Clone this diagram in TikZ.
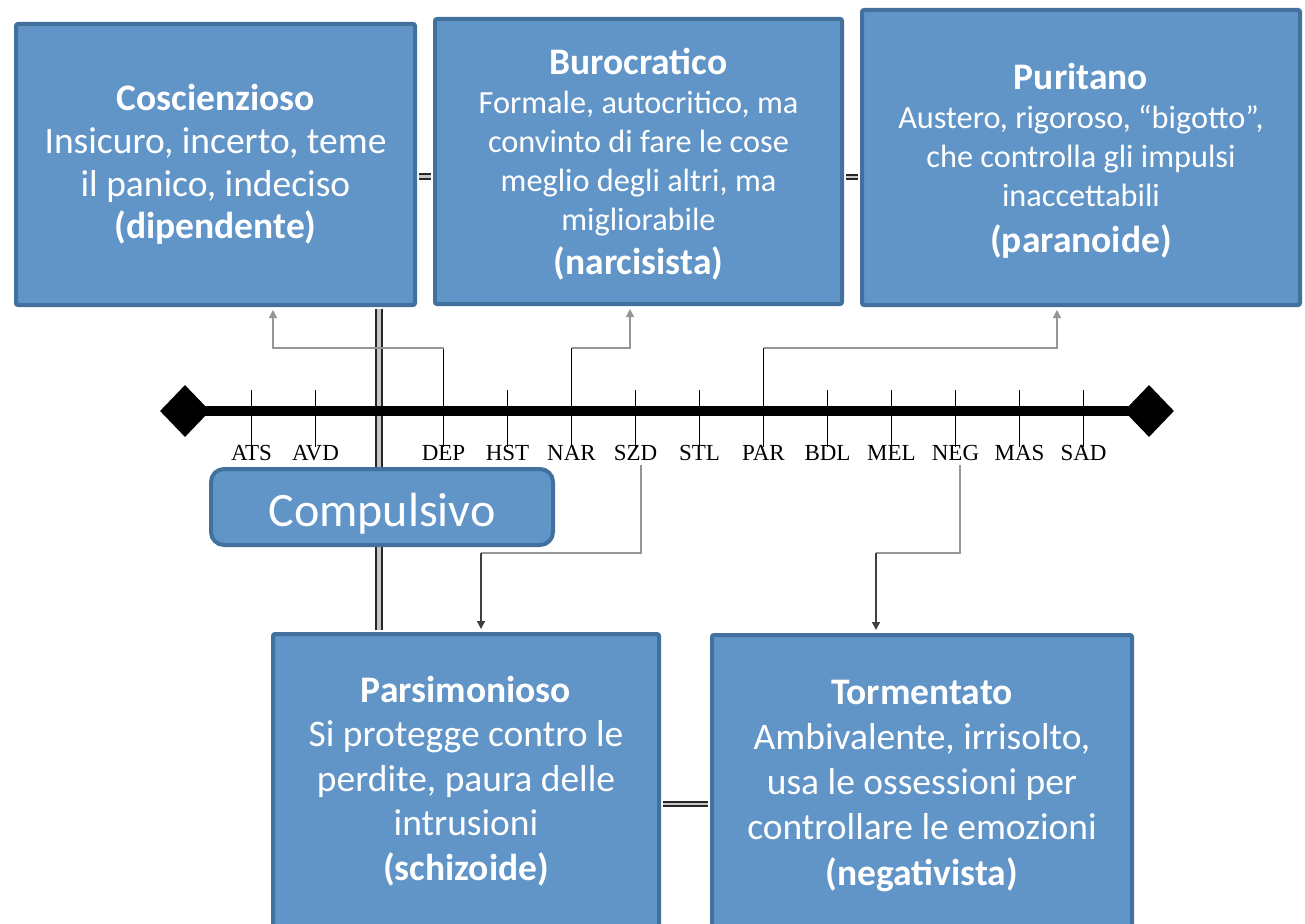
\documentclass[tikz,border=0pt]{standalone}
\usepackage{fontspec}
\setmainfont{Carlito}
\newfontfamily\labfont{Liberation Serif}
\usetikzlibrary{arrows.meta,calc,shapes.geometric}
\definecolor{boxfill}{RGB}{97,149,200}
\definecolor{boxline}{RGB}{67,113,158}
\definecolor{conngray}{RGB}{150,150,150}
\tikzset{
  box/.style={draw=boxline, line width=4pt, fill=boxfill, rounded corners=2pt,
    text=white, align=center, inner sep=0pt},
  dbl/.style={draw=black!85, double=gray!45, double distance=2.5pt, line width=1.8pt},
  vdbl/.style={draw=black!85, double=gray!45, double distance=3.5pt, line width=2.2pt},
  tickl/.style={draw=black, line width=1.5pt},
  axlab/.style={font=\labfont\fontsize{23}{23}\selectfont, text=black, inner sep=0pt},
  conn/.style={draw=conngray, line width=1.4pt},
  darkconn/.style={draw=black!75, line width=1.4pt},
  tip/.style={-{Triangle[width=8pt,length=8pt]}},
  diam/.style={diamond, fill=black, inner sep=0pt, minimum width=50pt, minimum height=52pt},
}
\newcommand{\bigb}[1]{{\fontsize{37.5}{39}\selectfont\bfseries #1}}
\begin{document}
\begin{tikzpicture}[x=1pt,y=-1pt]
\useasboundingbox (0,0) rectangle (1305,923);
\clip (0,0) rectangle (1305,923);
\fill[white] (0,0) rectangle (1305,923);

% boxes
\node[box, minimum width=399pt, minimum height=281pt, font=\fontsize{37.5}{42.7}\selectfont] (cos) at (215.5,164.5)
  {\textbf{Coscienzioso}\\Insicuro, incerto, teme\\il panico, indeciso\\\textbf{(dipendente)}};
\node[box, minimum width=407pt, minimum height=285pt, font=\fontsize{32.3}{39}\selectfont, text depth=0pt] (buro) at (638.5,161.5)
  {\bigb{Burocratico}\\Formale, autocritico, ma\\convinto di fare le cose\\meglio degli altri, ma\\migliorabile\\[5pt]\bigb{(narcisista)}};
\node[box, minimum width=438pt, minimum height=295pt, font=\fontsize{32.3}{39}\selectfont, text depth=0pt] (puri) at (1081,157.5)
  {\bigb{Puritano}\\Austero, rigoroso, “bigotto”,\\che controlla gli impulsi\\inaccettabili\\[7pt]\bigb{(paranoide)}};
\node[box, minimum width=386pt, minimum height=294pt, font=\fontsize{37.5}{44.5}\selectfont] (pars) at (466,781)
  {\textbf{Parsimonioso}\\Si protegge contro le\\perdite, paura delle\\intrusioni\\\textbf{(schizoide)}};
\node[box, minimum width=420pt, minimum height=295pt, font=\fontsize{37.5}{45.3}\selectfont, text depth=0pt] (tor) at (922,782.5)
  {\textbf{Tormentato}\\Ambivalente, irrisolto,\\usa le ossessioni per\\controllare le emozioni\\\textbf{(negativista)}};

% double connectors between boxes
\draw[dbl] ($(cos.east |- 0,176.5)+(2,0)$) -- ($(buro.west |- 0,176.5)+(-2,0)$);
\draw[dbl] ($(buro.east |- 0,177)+(2,0)$) -- ($(puri.west |- 0,177)+(-2,0)$);
\draw[dbl] ($(pars.east |- 0,804)+(2,0)$) -- ($(tor.west |- 0,804)+(-2,0)$);
\draw[vdbl] ($(379,0 |- cos.south)+(0,2)$) -- ($(379,0 |- pars.north)+(0,-2)$);

% axis
\node[diam] (dL) at (185,411) {};
\node[diam] (dR) at (1149,411) {};
\draw[line width=10.5pt] (dL.center) -- (dR.center);

% ticks and labels
\foreach \i/\t in {0/ATS,1/AVD,3/DEP,4/HST,5/NAR,6/SZD,7/STL,8/PAR,9/BDL,10/MEL,11/NEG,12/MAS,13/SAD}{
  \coordinate (k\i) at ({251.5+64*\i},390);
  \coordinate (kb\i) at ({251.5+64*\i},447);
  \draw[tickl] (k\i) -- (kb\i);
  \node[axlab] (l\i) at ({251.5+64*\i},453) {\t};
}

% compulsivo
\node[box, rounded corners=13pt, minimum width=342pt, minimum height=76pt,
      font=\fontsize{48}{48}\selectfont, text height=39pt, text depth=0pt] (comp) at (382,507) {Compulsivo};

% upper connectors
\coordinate (dtop) at (443.5,348);
\coordinate (ntop) at (571.5,348);
\coordinate (ptop) at (763.5,348);
\draw[tickl] (dtop) -- (kb3);
\draw[tickl] (ntop) -- (kb5);
\draw[tickl] (ptop) -- (kb8);
\draw[conn, tip] (dtop) -| ($(cos.south)+(57.5,3)$);
\draw[conn, tip] (ntop) -| ($(buro.south)+(-8.5,3)$);
\draw[conn, tip] (ptop) -| ($(puri.south)+(-24,3)$);

% lower connectors
\coordinate (sfrom) at (641,465);
\coordinate (sbend) at (481,553);
\coordinate (nfrom) at (960,465);
\coordinate (nbend) at (876,553);
\draw[conn] (sfrom) |- (sbend);
\draw[darkconn, tip] (sbend) -- ($(pars.north -| sbend)+(0,-3)$);
\draw[conn] (nfrom) |- (nbend);
\draw[darkconn, tip] (nbend) -- ($(tor.north -| nbend)+(0,-3)$);
\end{tikzpicture}
\end{document}
